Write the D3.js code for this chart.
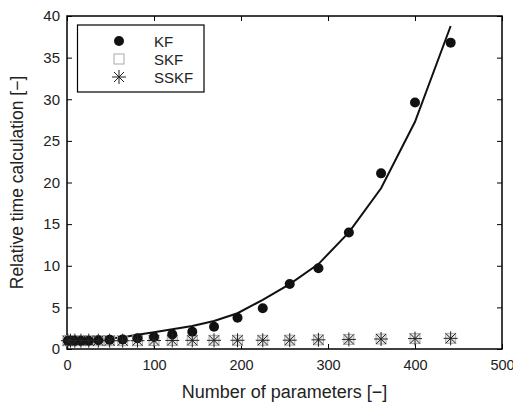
<!DOCTYPE html>
<html><head><meta charset="utf-8">
<script src="https://cdn.jsdelivr.net/npm/d3@7"></script>
<style>body{margin:0;background:#fff;} svg{display:block;font-family:"Liberation Sans",Arial,sans-serif;}</style>
</head><body>
<script>
const xParams = [1,4,9,16,25,36,49,64,81,100,121,144,169,196,225,256,289,324,361,400,441];
const kfValues = [1.0,1.0,1.0,1.0,1.0,1.05,1.1,1.15,1.3,1.45,1.76,2.08,2.68,3.76,4.9,7.8,9.7,14.0,21.1,29.6,36.8];
const skfValues = [1.0,1.0,1.0,1.0,1.0,1.0,1.0,1.0,1.0,1.02,1.03,1.04,1.04,1.05,1.05,1.06,1.1,1.15,1.2,1.25,1.28];
const sskfValues = [1.0,1.0,1.0,1.0,1.0,1.0,1.0,1.0,1.0,1.02,1.03,1.04,1.04,1.05,1.05,1.06,1.1,1.15,1.2,1.25,1.28];
const fitValues = [1.0,1.0,1.0,1.0,1.05,1.1,1.25,1.4,1.7,2.0,2.36,2.76,3.36,4.3,5.9,7.8,10.2,14.0,19.3,27.3,38.8];
const xTicks = [0,100,200,300,400,500];
const yTicks = [0,5,10,15,20,25,30,35,40];
const legendLabels = ["KF","SKF","SSKF"];

const W=513,H=405;
const m={l:67,r:11,t:16,b:56};
const svg=d3.select("body").append("svg").attr("width",W).attr("height",H);
const x=d3.scaleLinear().domain([0,500]).range([m.l,W-m.r]);
const y=d3.scaleLinear().domain([0,40]).range([H-m.b,m.t]);

// frame
svg.append("rect").attr("x",x(0)).attr("y",y(40)).attr("width",x(500)-x(0)).attr("height",y(0)-y(40))
  .attr("fill","none").attr("stroke","#000").attr("stroke-width",1.5);

const tl=5;
const axB=svg.append("g").attr("transform",`translate(0,${y(0)})`)
  .call(d3.axisBottom(x).tickValues(xTicks).tickSize(-tl).tickPadding(11).tickFormat(d3.format("d")));
const axT=svg.append("g").attr("transform",`translate(0,${y(40)})`)
  .call(d3.axisTop(x).tickValues(xTicks).tickSize(-tl).tickFormat(""));
const axL=svg.append("g").attr("transform",`translate(${x(0)},0)`)
  .call(d3.axisLeft(y).tickValues(yTicks).tickSize(-tl).tickPadding(7).tickFormat(d3.format("d")));
const axR=svg.append("g").attr("transform",`translate(${x(500)},0)`)
  .call(d3.axisRight(y).tickValues(yTicks).tickSize(-tl).tickFormat(""));
[axB,axT,axL,axR].forEach(a=>{a.select(".domain").remove();
  a.selectAll("line").attr("stroke","#000").attr("stroke-width",1);
  a.selectAll("text").attr("font-size",14.5).attr("fill","#222").attr("font-family","Liberation Sans, Arial, sans-serif");});
axL.selectAll("text").attr("font-size",15);

// line
const line=d3.line().x((d,i)=>x(xParams[i])).y(d=>y(d));
svg.append("path").datum(fitValues).attr("d",line).attr("fill","none").attr("stroke","#111").attr("stroke-width",2);

function drawSquare(g,cx,cy,fill){g.append("rect").attr("x",cx-5).attr("y",cy-5).attr("width",10).attr("height",10)
  .attr("fill",fill).attr("stroke","#aaa").attr("stroke-width",1);}
function drawStar(g,cx,cy){const s=7,d=5;
  const p=`M${cx-s},${cy}L${cx+s},${cy}M${cx},${cy-s}L${cx},${cy+s}M${cx-d},${cy-d}L${cx+d},${cy+d}M${cx-d},${cy+d}L${cx+d},${cy-d}`;
  g.append("path").attr("d",p).attr("stroke","#222").attr("stroke-width",1).attr("fill","none");}

const gS=svg.append("g");
skfValues.forEach((v,i)=>drawSquare(gS,x(xParams[i]),y(v),"#e6e6e6"));
const gK=svg.append("g");
gK.selectAll("circle").data(kfValues).join("circle").attr("cx",(d,i)=>x(xParams[i])).attr("cy",d=>y(d)).attr("r",5).attr("fill","#111");
const gSS=svg.append("g");
sskfValues.forEach((v,i)=>drawStar(gSS,x(xParams[i]),y(v)));

// legend
const lg=svg.append("g");
lg.append("rect").attr("x",77.5).attr("y",25).attr("width",126.5).attr("height",67).attr("fill","#fff").attr("stroke","#000").attr("stroke-width",1.2);
const ly=[41,59,77];
lg.append("circle").attr("cx",119).attr("cy",ly[0]).attr("r",5).attr("fill","#111");
drawSquare(lg,119,ly[1],"#fff");
drawStar(lg,119,ly[2]);
legendLabels.forEach((t,i)=>lg.append("text").attr("x",154).attr("y",ly[i]+5.5).attr("font-size",15).attr("fill","#222").text(t));

// titles
svg.append("text").attr("x",(x(0)+x(500))/2).attr("y",398).attr("text-anchor","middle").attr("font-size",18).attr("fill","#222").text("Number of parameters [−]");
svg.append("text").attr("transform",`translate(23,${(y(0)+y(40))/2}) rotate(-90)`).attr("text-anchor","middle").attr("font-size",17.5).attr("fill","#222").text("Relative time calculation [−]");
</script>
</body></html>
